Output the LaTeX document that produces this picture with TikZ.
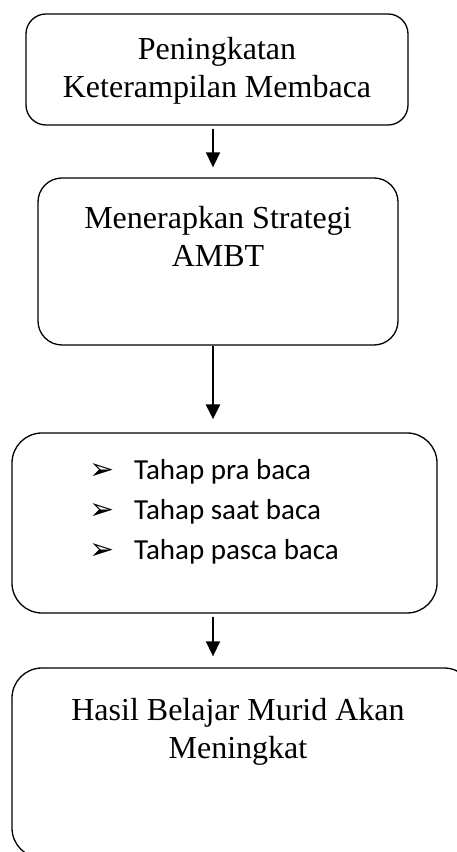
\documentclass[tikz,border=0pt]{standalone}
\usepackage{fontspec}
\setmainfont{Liberation Serif}
\newfontfamily\listfont{Carlito}
\newfontfamily\symbolfont{DejaVu Sans}
\usetikzlibrary{arrows.meta, positioning}

\newcommand{\stepitem}[1]{\makebox[45pt][l]{\symbolfont\fontsize{30}{30}\selectfont ➢}#1}

\begin{document}
\begin{tikzpicture}[x=1pt, y=1pt,
    stage/.style={draw, line width=1.3pt, rounded corners=24pt},
    title/.style={align=center, inner sep=0pt, font=\fontsize{32}{38}\selectfont},
    arrow/.style={-{Triangle[length=15pt, width=14pt]}, line width=1.6pt}
]
    \useasboundingbox (0,0) rectangle (457,852);

    % Boxes
    \node[stage, rounded corners=20pt, minimum width=382pt, minimum height=111pt] 
        (goal) at (217,782.5) {};
    \node[stage, minimum width=360pt, minimum height=167pt] 
        (strategy) at (218,590.5) {};
    \node[stage, rounded corners=30pt, minimum width=425pt, minimum height=180pt] 
        (steps) at (224.5,329) {};
    \node[stage, rounded corners=30pt, minimum width=462pt, minimum height=190pt] 
        (result) at (243,89) {};

    % Texts
    \node[title] (goaltext) at (217,781) {Peningkatan\\Keterampilan Membaca};
    \node[title] (strategytext) at (218,616) {Menerapkan Strategi\\AMBT};
    \node[anchor=west, align=left, inner sep=0pt, 
          font=\listfont\fontsize{29}{40}\selectfont] (steptext) at (89,340) 
        {\stepitem{Tahap pra baca}\\\stepitem{Tahap saat baca}\\\stepitem{Tahap pasca baca}};
    \node[title] (resulttext) at (238,120) {Hasil Belajar Murid Akan\\Meningkat};

    % Arrows
    \coordinate (axis) at (213,0);
    \draw[arrow, shorten <=3pt, shorten >=10pt] (goal.south -| axis) -- (strategy.north -| axis);
    \draw[arrow, line width=2.6pt, shorten >=13pt] (strategy.south -| axis) -- (steps.north -| axis);
    \draw[arrow, shorten <=3pt, shorten >=11pt] (steps.south -| axis) -- (result.north -| axis);
\end{tikzpicture}
\end{document}
